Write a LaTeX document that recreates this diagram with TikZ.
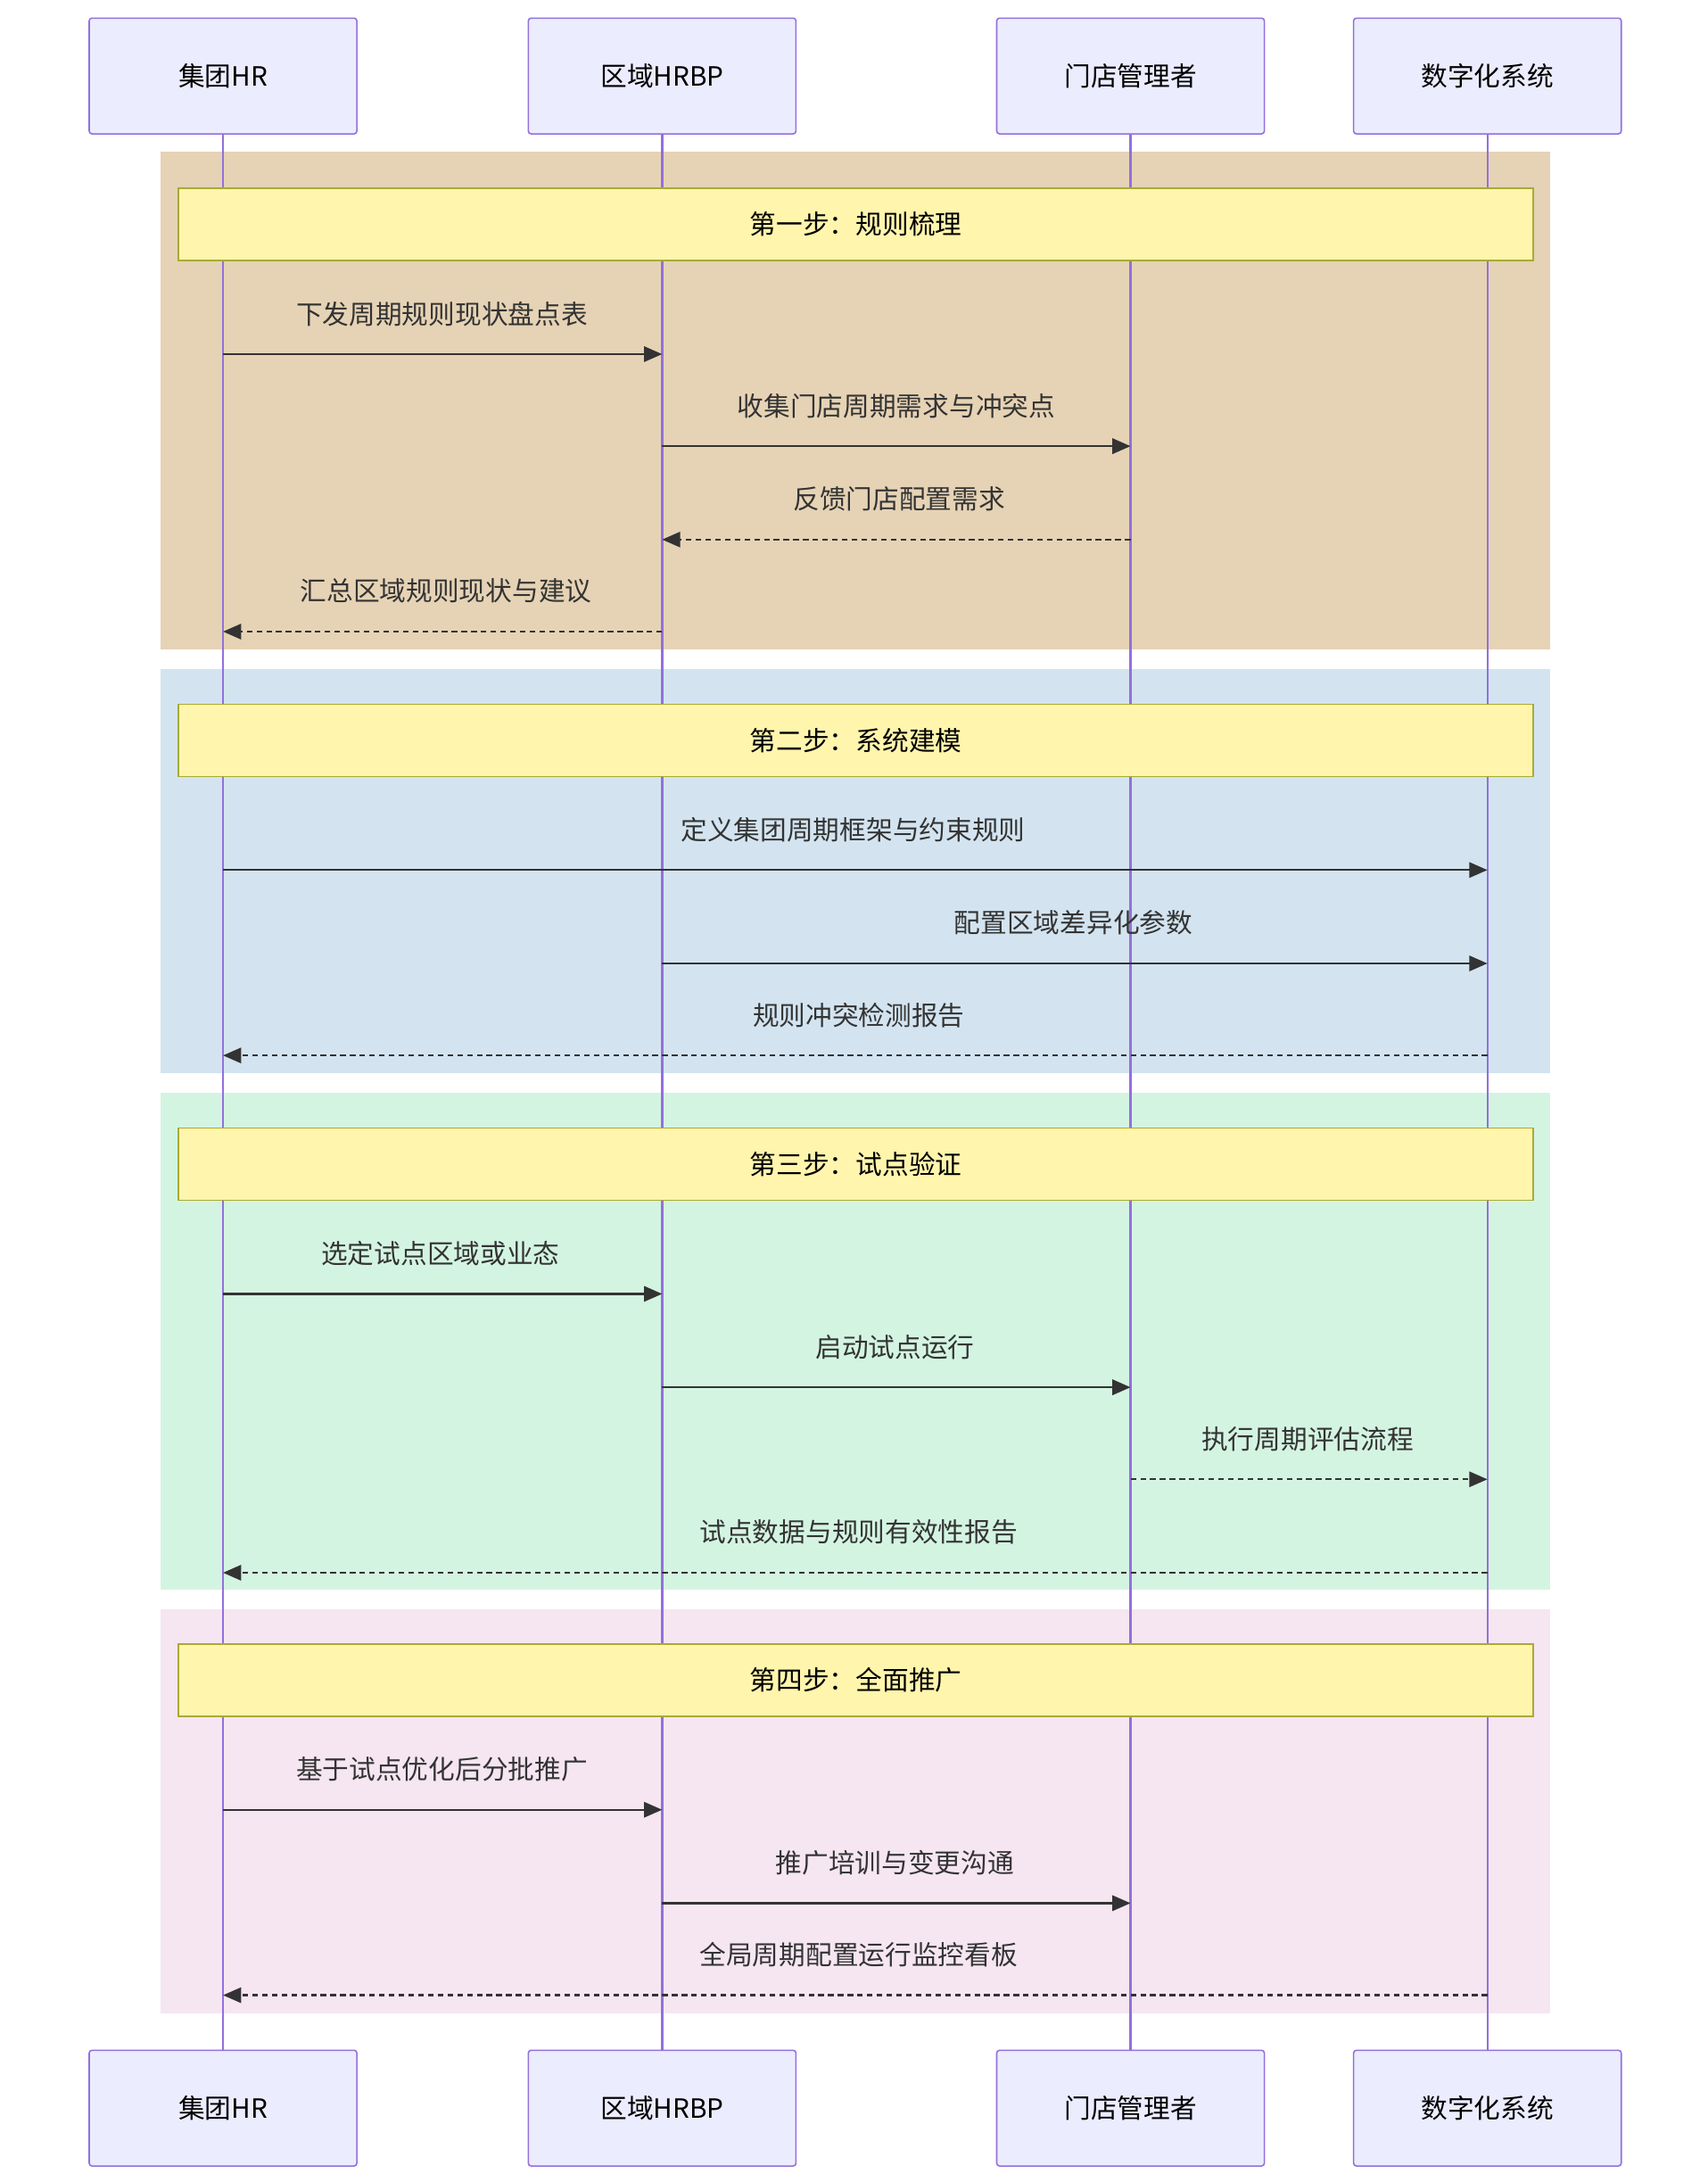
\documentclass[tikz,border=0pt]{standalone}
\usepackage{fontspec}
\newfontfamily\cjk{Noto Sans CJK SC}
\usetikzlibrary{arrows.meta}
\definecolor{life}{HTML}{9370DB}
\definecolor{actfill}{HTML}{ECECFF}
\definecolor{notefill}{HTML}{FFF5AD}
\definecolor{noteline}{HTML}{AAAA33}
\definecolor{bandA}{HTML}{E6D3B5}
\definecolor{bandB}{HTML}{D3E4F0}
\definecolor{bandC}{HTML}{D4F4E2}
\definecolor{bandD}{HTML}{F5E6F1}
\definecolor{ink}{HTML}{333333}
\tikzset{
 actor/.style={draw=life,fill=actfill,line width=1pt,rounded corners=2pt,minimum width=192pt,minimum height=83pt,font=\cjk\fontsize{19}{22}\selectfont,text=black},
 note/.style={draw=noteline,fill=notefill,line width=1pt,minimum width=972pt,minimum height=52pt,font=\cjk\fontsize{19}{22}\selectfont},
 life/.style={draw=life,line width=1.5pt},
 msg/.style={draw=ink,line width=1.5pt,-{Triangle[length=13pt,width=11pt]}},
 rep/.style={msg,dash pattern=on 4pt off 3pt},
 lbl/.style={font=\cjk\fontsize{19}{22}\selectfont,text=ink}
}
\begin{document}
\begin{tikzpicture}[x=1pt,y=-1pt]
\useasboundingbox (0,0) rectangle (1225,1565);
\fill[bandA] (115,109) rectangle (1112,466);
\fill[bandB] (115,480) rectangle (1112,770);
\fill[bandC] (115,784) rectangle (1112,1140);
\fill[bandD] (115,1154) rectangle (1112,1444);
\foreach \n/\x/\t in {a/160/集团HR,b/475/区域HRBP,c/811/门店管理者,d/1067/数字化系统}{
 \node[actor] (\n t) at (\x,54.5) {\t};
 \node[actor] (\n b) at (\x,1512) {\t};
 \draw[life] (\n t.south) -- (\n b.north);
}
\node[note] (n1) at (614,161) {第一步：规则梳理};
\node[note] (n2) at (614,531) {第二步：系统建模};
\node[note] (n3) at (614,835) {第三步：试点验证};
\node[note] (n4) at (614,1205) {第四步：全面推广};
\newcommand{\mymsg}[6]{% style, from x, to x, y, label, labelx
 \coordinate (s#4) at (#2,#4); \coordinate (e#4) at (#3,#4);
 \draw[#1] (s#4) -- (e#4);
 \node[lbl] at (#6,#4-29) {#5};}
\mymsg{msg}{160}{475}{254}{下发周期规则现状盘点表}{317}
\mymsg{msg}{475}{811}{320}{收集门店周期需求与冲突点}{643}
\mymsg{rep}{811}{475}{387}{反馈门店配置需求}{645}
\mymsg{rep}{475}{160}{453}{汇总区域规则现状与建议}{320}
\mymsg{msg}{160}{1067}{624}{定义集团周期框架与约束规则}{612}
\mymsg{msg}{475}{1067}{691}{配置区域差异化参数}{770}
\mymsg{rep}{1067}{160}{757}{规则冲突检测报告}{616}
\mymsg{msg}{160}{475}{928}{选定试点区域或业态}{316}
\mymsg{msg}{475}{811}{995}{启动试点运行}{642}
\mymsg{rep}{811}{1067}{1061}{执行周期评估流程}{938}
\mymsg{rep}{1067}{160}{1128}{试点数据与规则有效性报告}{616}
\mymsg{msg}{160}{475}{1298}{基于试点优化后分批推广}{317}
\mymsg{msg}{475}{811}{1365}{推广培训与变更沟通}{642}
\mymsg{rep}{1067}{160}{1431}{全局周期配置运行监控看板}{616}
\end{tikzpicture}
\end{document}
